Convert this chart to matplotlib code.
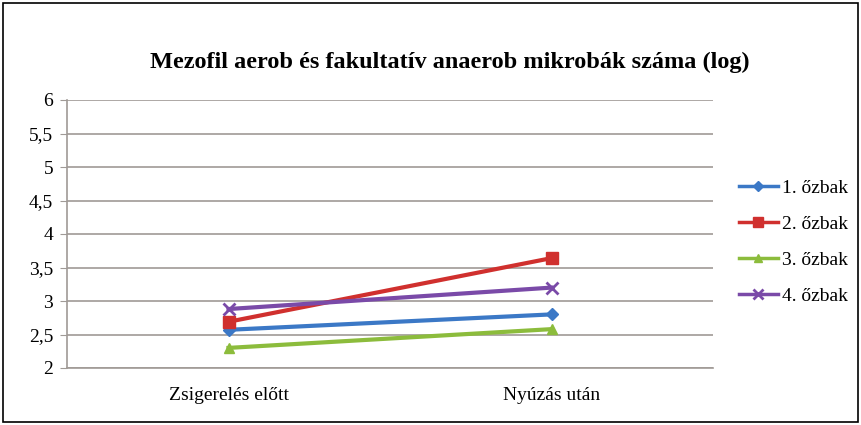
import matplotlib
matplotlib.use("Agg")
import matplotlib.pyplot as plt
from matplotlib.patches import Rectangle

categories = ["Zsigerelés előtt", "Nyúzás után"]
series_names = ["1. őzbak", "2. őzbak", "3. őzbak", "4. őzbak"]
s1 = [2.57, 2.80]
s2 = [2.69, 3.64]
s3 = [2.30, 2.58]
s4 = [2.88, 3.20]
yticks = [2, 2.5, 3, 3.5, 4, 4.5, 5, 5.5, 6]
ytick_labels = ["2", "2,5", "3", "3,5", "4", "4,5", "5", "5,5", "6"]

colors = ["#3b78c6", "#d0302e", "#8cbc3c", "#7a4aa8"]
markers = ["D", "s", "^", "x"]
msizes = [6, 9, 7, 9]

plt.rcParams["font.family"] = ["Liberation Serif", "DejaVu Serif"]

fig = plt.figure(figsize=(8.61, 4.25), dpi=100)
fig.patches.append(Rectangle((0.004, 0.007), 0.992, 0.986, transform=fig.transFigure,
                             fill=False, edgecolor="black", linewidth=1.2))

ax = fig.add_axes([67 / 861, 1 - 368 / 425, (713 - 67) / 861, (368 - 100) / 425])
x = [0, 1]
for vals, name, c, m, ms in zip([s1, s2, s3, s4], series_names, colors, markers, msizes):
    ax.plot(x, vals, color=c, linewidth=3, marker=m, markersize=ms,
            markeredgewidth=2 if m == "x" else 1, label=name)

ax.set_xlim(-0.5, 1.5)
ax.set_ylim(2, 6)
ax.set_yticks(yticks)
ax.set_yticklabels(ytick_labels, fontsize=14)
ax.set_xticks(x)
ax.set_xticklabels(categories, fontsize=14)
ax.tick_params(axis="x", length=0, pad=14)
ax.tick_params(axis="y", length=5, color="#a09a96", pad=5, direction="out")
ax.grid(axis="y", color="#a09a96", linewidth=1.2)
ax.set_axisbelow(True)
for side in ["top", "right"]:
    ax.spines[side].set_visible(False)
ax.spines["left"].set_color("#a09a96")
ax.spines["bottom"].set_color("#a09a96")
ax.spines["left"].set_linewidth(1.2)
ax.spines["bottom"].set_linewidth(1.2)

fig.text(450 / 861, 1 - 62 / 425, "Mezofil aerob és fakultatív anaerob mikrobák száma (log)",
         ha="center", va="center", fontsize=17.5, fontweight="bold")

leg = ax.legend(loc="center left", bbox_to_anchor=(731 / 861, 1 - 242 / 425),
                bbox_transform=fig.transFigure, frameon=False, fontsize=14,
                handlelength=2.0, labelspacing=0.95, handletextpad=0.2,
                borderaxespad=0, markerscale=0.8)
for line in leg.get_lines():
    line.set_linewidth(2.5)

fig.savefig("out.png", dpi=100)
